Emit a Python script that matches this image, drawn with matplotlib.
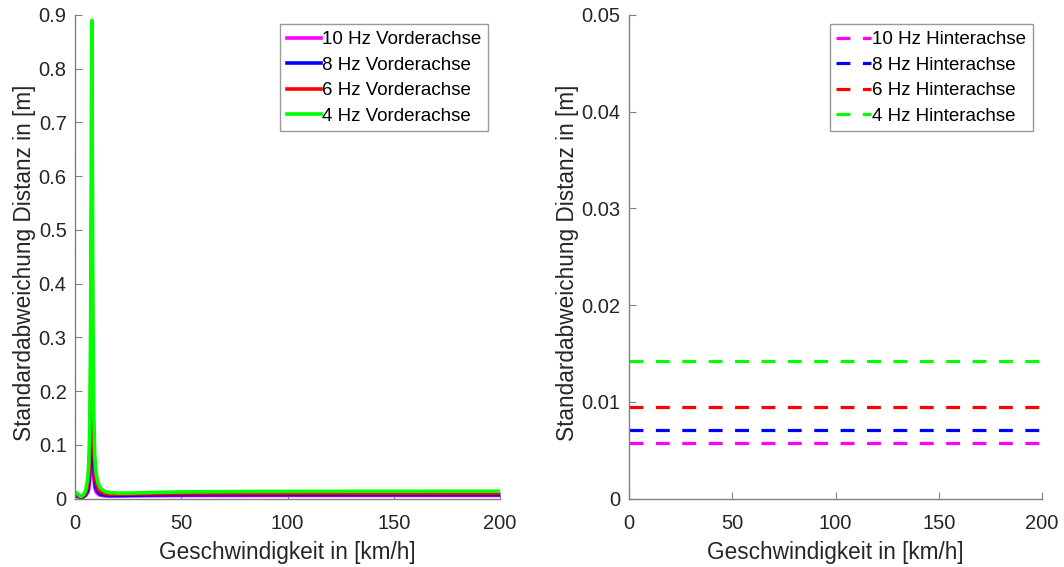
import matplotlib
matplotlib.use("Agg")
import matplotlib.pyplot as plt

# ---------------- data ----------------
speed = [0, 1, 2, 2.5, 3, 4, 5, 6, 6.5, 7, 7.4, 7.7, 7.9, 8.1, 8.4, 8.8, 9.3, 10,
         11, 12, 14, 16, 20, 25, 30, 40, 50, 60, 80, 100, 120, 140, 160, 180, 200]

front_10hz = [0.005, 0.004, 0.0025, 0.0015, 0.0015, 0.003, 0.006, 0.011, 0.018,
              0.037, 0.09, 0.18, 0.22, 0.18, 0.09, 0.04, 0.02, 0.012, 0.008, 0.006,
              0.0048, 0.0045, 0.0045, 0.0048, 0.005, 0.0053, 0.0055, 0.0056, 0.0056,
              0.0057, 0.0057, 0.0057, 0.0057, 0.0057, 0.0057]
front_8hz = [0.006, 0.005, 0.003, 0.002, 0.002, 0.0035, 0.007, 0.016, 0.027,
             0.058, 0.14, 0.28, 0.35, 0.28, 0.14, 0.063, 0.032, 0.018, 0.011, 0.008,
             0.0062, 0.0058, 0.0058, 0.006, 0.0063, 0.0066, 0.0069, 0.007, 0.0071,
             0.0071, 0.0071, 0.0071, 0.0071, 0.0071, 0.0071]
front_6hz = [0.009, 0.0075, 0.0045, 0.003, 0.003, 0.005, 0.010, 0.024, 0.042,
             0.09, 0.22, 0.44, 0.55, 0.44, 0.22, 0.1, 0.05, 0.028, 0.017, 0.012,
             0.009, 0.0082, 0.008, 0.0082, 0.0085, 0.009, 0.0093, 0.0094, 0.0095,
             0.0095, 0.0095, 0.0095, 0.0095, 0.0095, 0.0095]
front_4hz = [0.012, 0.010, 0.006, 0.004, 0.004, 0.007, 0.014, 0.038, 0.067,
             0.147, 0.35, 0.71, 0.89, 0.71, 0.36, 0.16, 0.08, 0.045, 0.027, 0.019,
             0.013, 0.011, 0.0100, 0.0100, 0.0105, 0.0115, 0.0122, 0.0126, 0.013,
             0.0132, 0.0133, 0.0134, 0.0134, 0.0135, 0.0135]

rear_speed = [0, 200]
rear_10hz = [0.0057, 0.0057]
rear_8hz = [0.0071, 0.0071]
rear_6hz = [0.0095, 0.0095]
rear_4hz = [0.0142, 0.0142]

freqs = ["10", "8", "6", "4"]
colors = ["#ff00ff", "#0000ff", "#ff0000", "#00ff00"]

# ---------------- style ----------------
plt.rcParams['font.family'] = ['Liberation Sans', 'DejaVu Sans']
plt.rcParams['lines.scale_dashes'] = False
txt = "#262626"

fig = plt.figure(figsize=(10.64, 5.67), dpi=100)
ax1 = fig.add_axes([75 / 1064, 1 - 498.5 / 567, 425 / 1064, 483.5 / 567])
ax2 = fig.add_axes([629 / 1064, 1 - 498.5 / 567, 413 / 1064, 483.5 / 567])

front = [front_10hz, front_8hz, front_6hz, front_4hz]
rear = [rear_10hz, rear_8hz, rear_6hz, rear_4hz]

for f, c, y in zip(freqs, colors, front):
    ax1.plot(speed, y, color=c, lw=2.6, label=f"{f} Hz Vorderachse",
             solid_joinstyle='round')
for f, c, y in zip(freqs, colors, rear):
    ax2.plot(rear_speed, y, color=c, lw=2.3, dashes=(10, 9),
             label=f"{f} Hz Hinterachse")

ax1.set_xlim(0, 200)
ax1.set_ylim(0, 0.9)
ax1.set_yticks([0, 0.1, 0.2, 0.3, 0.4, 0.5, 0.6, 0.7, 0.8, 0.9])
ax1.set_yticklabels(["0", "0.1", "0.2", "0.3", "0.4", "0.5", "0.6", "0.7", "0.8", "0.9"])
ax2.set_xlim(0, 200)
ax2.set_ylim(0, 0.05)
ax2.set_yticks([0, 0.01, 0.02, 0.03, 0.04, 0.05])
ax2.set_yticklabels(["0", "0.01", "0.02", "0.03", "0.04", "0.05"])

for ax, bx in ((ax1, 0.994), (ax2, 1.0)):
    ax.set_xticks([0, 50, 100, 150, 200])
    for s in ("top", "right"):
        ax.spines[s].set_visible(False)
    for s in ("left", "bottom"):
        ax.spines[s].set_color("#808080")
        ax.spines[s].set_linewidth(1.0)
    ax.tick_params(direction='in', length=5, width=0.8, color="#808080",
                   labelsize=14.5, labelcolor=txt, pad=6)
    ax.tick_params(axis='x', pad=11)
    ax.set_xlabel("Geschwindigkeit in [km/h]", fontsize=16.3, color=txt, labelpad=6)
    ax.set_ylabel("Standardabweichung Distanz in [m]", fontsize=16.3, color=txt)
    leg = ax.legend(loc='upper right', fontsize=13.5, frameon=True, fancybox=False,
                    handlelength=1.85, handletextpad=0.05, borderpad=0.35,
                    labelspacing=0.45, borderaxespad=0.5, bbox_to_anchor=(bx, 1.0))
    leg.get_frame().set_edgecolor("#808080")
    leg.get_frame().set_linewidth(1.0)
    for t in leg.get_texts():
        t.set_color("#000000")

ax1.yaxis.set_label_coords(-0.092, 0.488)
ax2.yaxis.set_label_coords(-0.121, 0.488)

fig.savefig("out.png", dpi=100)
